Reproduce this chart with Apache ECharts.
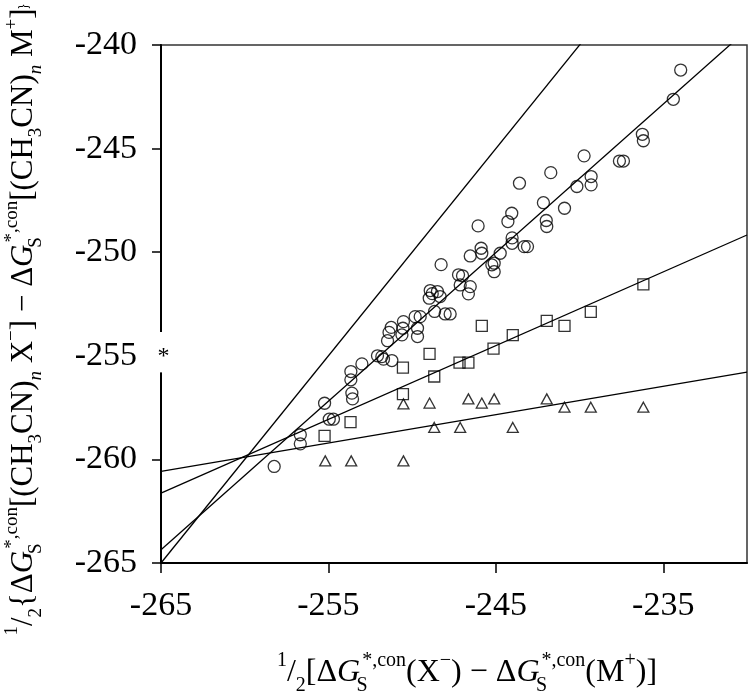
<!DOCTYPE html>
<html><head><meta charset="utf-8">
<script src="https://cdn.jsdelivr.net/npm/echarts@6/dist/echarts.min.js"></script>
<style>html,body{margin:0;padding:0;background:#fff}#c{width:748px;height:697px}</style>
</head><body><div id="c"></div>
<script>
// ---- data ----
const xTickValues = [-265, -255, -245, -235];
const yTickValues = [-265, -260, -250, -245, -240]; // -255 is broken by the "*" marker
const circleX = [-258.24,-256.68,-256.68,-255.23,-254.95,-254.70,-253.66,-253.66,-253.60,-253.56,-253.00,-252.07,-251.81,-251.71,-251.21,-251.47,-251.38,-251.25,
  -250.55,-250.61,-250.52,-249.82,-249.52,-249.68,-249.68,-248.98,-248.92,-248.80,-248.49,-248.33,-248.66,-248.03,-247.73,-248.27,-247.23,-246.99,-247.13,-246.53,-246.64,-246.53,-245.88,-245.84,-246.06,-245.24,-245.10,-245.10,-244.74,
  -244.03,-244.03,-243.31,-243.11,-244.28,-244.05,-243.59,-242.16,-241.99,-241.96,-241.72,-240.90,-240.16,-239.31,-239.31,-239.73,-237.62,-237.38,-236.25,-236.19,-234.40,-233.96];
const circleY = [-260.34,-258.81,-259.25,-257.29,-258.06,-258.06,-255.76,-256.16,-256.80,-257.08,-255.39,-255.00,-255.04,-255.16,-255.23,-254.27,-253.87,-253.63,
  -253.67,-253.99,-253.35,-253.11,-253.11,-253.67,-254.07,-252.22,-251.85,-252.00,-251.90,-252.14,-252.86,-252.98,-252.98,-250.60,-251.09,-251.14,-251.58,-251.66,-252.01,-250.18,-249.81,-250.05,-248.73,-250.61,-250.53,-250.94,-250.05,
  -249.31,-249.57,-249.73,-249.73,-248.52,-248.12,-246.67,-247.61,-248.47,-248.76,-246.16,-247.88,-246.83,-246.35,-246.75,-245.35,-245.60,-245.60,-244.31,-244.62,-242.62,-241.21];
const squareX = [-255.23,-253.68,-250.55,-250.55,-248.96,-248.68,-247.17,-246.64,-245.84,-245.14,-243.99,-241.96,-240.90,-239.33,-236.19];
const squareY = [-258.86,-258.20,-256.85,-255.57,-254.91,-256.00,-255.33,-255.33,-253.56,-254.65,-254.00,-253.31,-253.56,-252.88,-251.55];
const triangleX = [-255.19,-253.64,-250.52,-250.52,-248.96,-248.68,-247.13,-246.64,-245.84,-245.10,-243.99,-241.96,-240.90,-239.33,-236.19];
const triangleY = [-260.07,-260.07,-260.07,-257.32,-257.28,-258.46,-258.46,-257.08,-257.28,-257.08,-258.46,-257.08,-257.48,-257.48,-257.48];
// fitted lines: value at x = -265 and slope
const lineStartY = [-265.0, -264.36, -261.63, -260.58];
const lineSlope  = [1.0, 0.717, 0.356, 0.137];
const xMin = -265, xMax = -230, yMin = -265, yMax = -240;

const zip = (a, b) => a.map((v, i) => [v, b[i]]);
const SERIF = "'Liberation Serif', 'DejaVu Serif', serif";
const hollow = { color: 'rgba(0,0,0,0)', borderColor: '#000', borderWidth: 1.3 };

const lineSeries = lineStartY.map((y0, i) => ({
  type: 'line', data: [[xMin, y0], [xMax, y0 + lineSlope[i] * (xMax - xMin)]],
  showSymbol: false, symbol: 'none', clip: true, silent: true,
  lineStyle: { color: '#000', width: 1.3 }, z: 2
}));

function richStyles(base) {
  const s = Math.round(base * 0.62);
  return {
    n:   { fontFamily: SERIF, fontSize: base, lineHeight: base * 1.4, color: '#000' },
    it:  { fontFamily: SERIF, fontSize: base, fontStyle: 'italic', lineHeight: base * 1.4, color: '#000', padding: [0, 2, 0, 0] },
    sup: { fontFamily: SERIF, fontSize: s, verticalAlign: 'top', lineHeight: s * 1.2, color: '#000' },
    sub: { fontFamily: SERIF, fontSize: s, verticalAlign: 'bottom', lineHeight: s * 1.2, color: '#000' },
    subi:{ fontFamily: SERIF, fontSize: s, fontStyle: 'italic', verticalAlign: 'bottom', lineHeight: s * 1.2, color: '#000' },
    subw:{ fontFamily: SERIF, fontSize: s, verticalAlign: 'bottom', lineHeight: s * 1.2, width: 0.01, color: '#000' }
  };
}
const xTitle = '{sup|1}{n|/}{sub|2}{n|[Δ}{it|G}{subw|S}{sup|*,con}{n|(X}{sup|−}{n|) − Δ}{it|G}{subw|S}{sup|*,con}{n|(M}{sup|+}{n|)]}';
const yTitle = '{sup|1}{n|/}{sub|2}{n|{Δ}{it|G}{subw|S}{sup|*,con}{n|[(CH}{sub|3}{n|CN)}{subi|n}{n| X}{sup|−}{n|] − Δ}{it|G}{subw|S}{sup|*,con}{n|[(CH}{sub|3}{n|CN)}{subi|n}{n| M}{sup|+}{n|]}}';

const chart = echarts.init(document.getElementById('c'), null, { renderer: 'canvas' });
chart.setOption({
  animation: false,
  backgroundColor: '#fff',
  grid: { left: 161, top: 45, right: 1, bottom: 134, containLabel: false, outerBoundsMode: 'none',
          show: true, borderColor: '#333', borderWidth: 1.5, backgroundColor: 'transparent' },
  xAxis: {
    type: 'value', min: xMin, max: xMax, interval: 10,
    splitLine: { show: false },
    axisLine: { onZero: false, lineStyle: { color: '#000', width: 2 } },
    axisTick: { customValues: xTickValues, length: 10, lineStyle: { color: '#000', width: 1.5 } },
    axisLabel: { customValues: xTickValues, fontFamily: SERIF, fontSize: 34, color: '#000', margin: 26 }
  },
  yAxis: {
    type: 'value', min: yMin, max: yMax, interval: 5,
    splitLine: { show: false },
    axisLine: { onZero: false, lineStyle: { color: '#000', width: 2 } },
    axisTick: { customValues: yTickValues, length: 9, lineStyle: { color: '#000', width: 1.5 } },
    axisLabel: { fontFamily: SERIF, fontSize: 34, color: '#000', margin: 24 }
  },
  series: [
    ...lineSeries,
    { type: 'scatter', data: zip(circleX, circleY), symbol: 'circle', symbolSize: 12, itemStyle: hollow, z: 3 },
    { type: 'scatter', data: zip(squareX, squareY), symbol: 'rect', symbolSize: 11, itemStyle: hollow, z: 3 },
    { type: 'scatter', data: zip(triangleX, triangleY), symbol: 'triangle', symbolSize: [11, 10], itemStyle: hollow, z: 3 }
  ]
});

const p = chart.convertToPixel({ gridIndex: 0 }, [xMin, -255]);
const pTop = chart.convertToPixel({ gridIndex: 0 }, [xMin, -253.85]);
const pBot = chart.convertToPixel({ gridIndex: 0 }, [xMin, -255.8]);
chart.setOption({
  graphic: [
    { type: 'rect', shape: { x: p[0] - 6, y: pTop[1], width: 12, height: pBot[1] - pTop[1] },
      style: { fill: '#fff' }, z: 100 },
    { type: 'text', x: p[0] + 2.5, y: p[1] + 1, z: 101,
      style: { text: '*', fontFamily: SERIF, fontSize: 24, fill: '#000', align: 'center', verticalAlign: 'middle' } },
    { type: 'text', x: 467, y: 673, z: 101,
      style: { text: xTitle, rich: richStyles(32), align: 'center', verticalAlign: 'middle' } },
    { type: 'text', x: 24, y: 320, rotation: Math.PI / 2, z: 101,
      style: { text: yTitle, rich: richStyles(31), align: 'center', verticalAlign: 'middle' } }
  ]
});
</script></body></html>
